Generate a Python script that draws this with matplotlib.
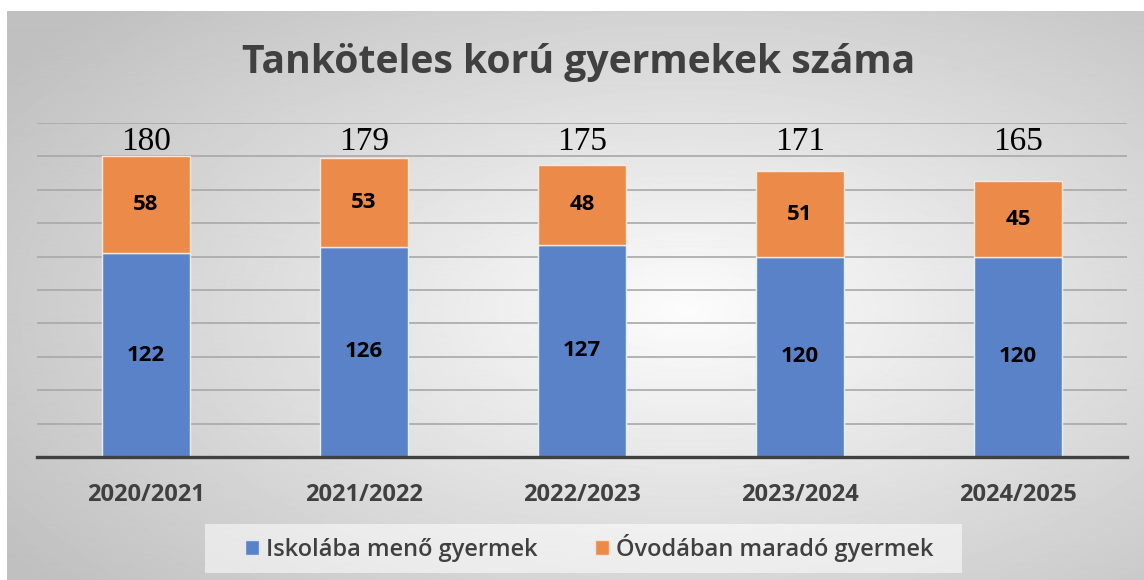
import numpy as np
import matplotlib.pyplot as plt
from matplotlib.patches import Patch, Rectangle

years = ['2020/2021', '2021/2022', '2022/2023', '2023/2024', '2024/2025']
iskola = [122, 126, 127, 120, 120]
ovoda = [58, 53, 48, 51, 45]
osszes = [180, 179, 175, 171, 165]

kek = '#5a82c9'
narancs = '#ec8a4a'
sotet = '#404040'

fig = plt.figure(figsize=(11.44, 5.8), dpi=100)

# háttér: radiális színátmenet
bg = fig.add_axes([7 / 1144, 0, 1 - 7 / 1144, 1 - 11 / 580])
h, w = 570, 1137
yy, xx = np.mgrid[0:h, 0:w]
r = np.sqrt(((xx - 680) / 820.0) ** 2 + ((yy - 300) / 430.0) ** 2)
szin = np.clip(252 - 60 * r, 192, 252) / 255.0
bg.imshow(szin, cmap='gray', vmin=0, vmax=1, aspect='auto', interpolation='bilinear')
bg.axis('off')

ax = fig.add_axes([37 / 1144, 1 - 457 / 580, 1090 / 1144, 334 / 580])
ax.patch.set_alpha(0)
x = np.arange(len(years))
b1 = ax.bar(x, iskola, width=0.4, color=kek, edgecolor='#e8eef8', linewidth=1, zorder=3)
b2 = ax.bar(x, ovoda, bottom=iskola, width=0.4, color=narancs, edgecolor='#f8e8dc', linewidth=1, zorder=3)

ax.bar_label(b1, label_type='center', fontsize=16, fontweight='bold', family='Open Sans', color='black')
ax.bar_label(b2, label_type='center', fontsize=16, fontweight='bold', family='Open Sans', color='black')
# összesen: egy magasságban a sávok fölött
for i, t in enumerate(osszes):
    ax.text(x[i], 184, str(t), ha='center', va='baseline', fontsize=24,
            family='Liberation Serif', color='black')

ax.set_xlim(-0.5, 4.5)
ax.set_ylim(0, 200)
ax.set_yticks(np.arange(20, 201, 20))
ax.yaxis.grid(True, color='#a8a8a8', linewidth=1.2, zorder=0)
ax.tick_params(axis='y', left=False, labelleft=False)
ax.tick_params(axis='x', bottom=False, pad=15)
ax.set_xticks(x)
ax.set_xticklabels(years, fontsize=17, fontweight='bold', family='Open Sans', color=sotet)
for s in ['top', 'right', 'left']:
    ax.spines[s].set_visible(False)
ax.spines['bottom'].set_color(sotet)
ax.spines['bottom'].set_linewidth(2.4)
ax.spines['bottom'].set_zorder(4)

fig.text(0.5055, 1 - 63 / 580, 'Tanköteles korú gyermekek száma', ha='center', va='center',
         fontsize=28.2, fontweight='bold', family='Open Sans', color=sotet)

# jelmagyarázat doboza
fig.patches.append(Rectangle((205 / 1144, 1 - 573 / 580), 757 / 1144, 49 / 580,
                             transform=fig.transFigure, facecolor='white', alpha=0.55,
                             edgecolor='none', zorder=1))
kezek = [Patch(facecolor=kek, edgecolor='#dfe6f4'), Patch(facecolor=narancs, edgecolor='#f6e2d4')]
leg = fig.legend(kezek, ['Iskolába menő gyermek', 'Óvodában maradó gyermek'],
                 loc='center', bbox_to_anchor=(0.515, 1 - 548 / 580), ncol=2,
                 prop={'family': 'Open Sans', 'size': 17, 'weight': 'semibold'},
                 handlelength=0.6, handleheight=0.6,
                 handletextpad=0.3, columnspacing=2.4, frameon=False)
for t in leg.get_texts():
    t.set_color(sotet)

fig.savefig('out.png', dpi=100)
